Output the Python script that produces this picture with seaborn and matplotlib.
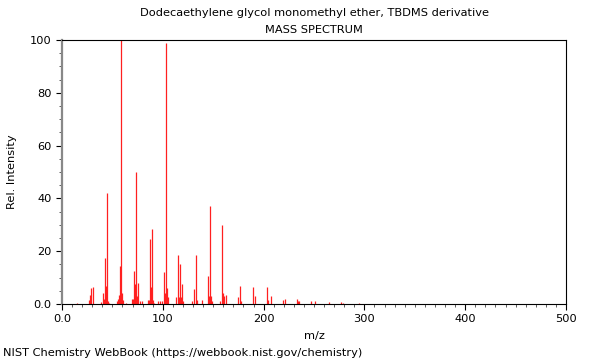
import numpy as np
import pandas as pd
import matplotlib
matplotlib.use("Agg")
import matplotlib.pyplot as plt
from matplotlib.ticker import MultipleLocator, FixedLocator
import seaborn as sns

# peaks (m/z, relative intensity)
mz = [15, 27, 28, 29, 31, 39, 41, 42, 43, 44, 45, 46, 47,
      55, 56, 57, 58, 59, 60, 61, 63, 69, 70, 71, 72, 73, 74, 75, 77, 79,
      85, 86, 87, 88, 89, 90, 91, 95, 97, 99, 101, 102, 103, 104, 105,
      113, 115, 116, 117, 118, 119, 120, 129, 131, 133, 134, 139,
      145, 146, 147, 148, 149, 157, 159, 160, 161, 163,
      175, 177, 178, 189, 191, 203, 204, 207, 219, 221,
      233, 234, 235, 247, 251, 265, 277, 279, 295]
intensity = [0.5, 1.5, 3.5, 6.0, 6.5, 0.8, 4.0, 2.0, 17.5, 7.0, 42.0, 1.0, 0.5,
             1.0, 2.0, 3.5, 14.3, 100.0, 4.0, 1.5, 0.5, 2.0, 2.0, 12.5, 7.5, 50.0, 3.0, 8.0, 1.0, 1.0,
             1.5, 1.5, 24.5, 6.5, 28.5, 1.5, 0.5, 1.0, 1.0, 1.0, 12.0, 4.0, 99.0, 6.0, 2.5,
             2.5, 18.5, 2.5, 15.0, 2.5, 7.5, 1.0, 1.0, 5.5, 18.5, 1.5, 1.5,
             10.5, 3.0, 37.0, 3.0, 1.0, 1.0, 30.0, 4.0, 3.0, 3.5,
             2.5, 7.0, 1.0, 6.5, 3.0, 6.5, 1.5, 3.0, 1.5, 2.0,
             2.0, 1.0, 1.0, 1.0, 1.0, 0.7, 0.7, 0.5, 0.4]

title = "Dodecaethylene glycol monomethyl ether, TBDMS derivative"
subtitle = "MASS SPECTRUM"
footer = "NIST Chemistry WebBook (https://webbook.nist.gov/chemistry)"

df = pd.DataFrame({"mz": mz, "intensity": intensity})

sns.set_theme(style="ticks")
plt.rcParams["font.family"] = ["DejaVu Sans"]
plt.rcParams["text.color"] = "black"
plt.rcParams["axes.labelcolor"] = "black"
fs = 8.2

fig = plt.figure(figsize=(6, 3.6), dpi=100)
ax = fig.add_axes([62 / 600, 1 - 304 / 360, 504 / 600, 264 / 360])

ax.vlines(df["mz"], 0, df["intensity"], colors="#ff2020", linewidth=0.9)

ax.set_xlim(0, 500)
ax.set_ylim(0, 100)
ax.xaxis.set_major_locator(FixedLocator([0, 100, 200, 300, 400, 500]))
ax.xaxis.set_minor_locator(MultipleLocator(10))
ax.yaxis.set_major_locator(FixedLocator([0, 20, 40, 60, 80, 100]))
ax.yaxis.set_minor_locator(MultipleLocator(5))
ax.set_xticklabels(["0.0", "100", "200", "300", "400", "500"])
ax.set_yticklabels(["0.0", "20", "40", "60", "80", "100"])
ax.tick_params(which="major", direction="out", length=4, width=0.8, labelsize=fs,
               color="black", labelcolor="black")
ax.tick_params(which="minor", direction="out", length=2.5, width=0.6, color="#444444")

for side in ["top", "right", "bottom"]:
    ax.spines[side].set_visible(True)
    ax.spines[side].set_linewidth(0.8)
    ax.spines[side].set_color("black")
ax.spines["left"].set_linewidth(1.6)
ax.spines["left"].set_color("#888888")

ax.set_xlabel("m/z", fontsize=fs, labelpad=5, color="black")
ax.set_ylabel("Rel. Intensity", fontsize=fs, labelpad=9, color="black")

cx = 314 / 600
fig.text(cx, 1 - 13 / 360, title, ha="center", va="center", fontsize=fs, color="black")
fig.text(cx, 1 - 30 / 360, subtitle, ha="center", va="center", fontsize=fs, color="black")
fig.text(3 / 600, 1 - 353 / 360, footer, ha="left", va="center", fontsize=fs, color="black")

fig.savefig("out.png", dpi=100)
